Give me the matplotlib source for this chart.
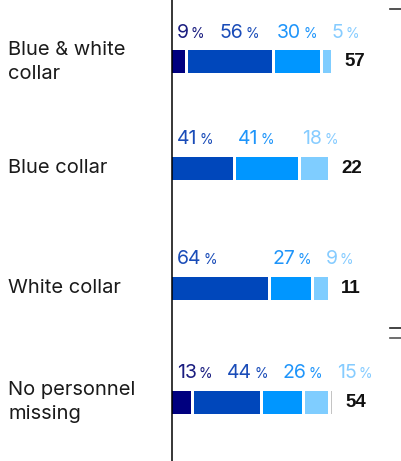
import matplotlib
matplotlib.use("Agg")
import matplotlib.pyplot as plt
from matplotlib.lines import Line2D

# staffing shortage by personnel group, share of answers per level
groups = ["Blue & white\ncollar", "Blue collar", "White collar", "No personnel\nmissing"]
level1 = [9, 0, 0, 13]
level2 = [56, 41, 64, 44]
level3 = [30, 41, 27, 26]
level4 = [5, 18, 9, 15]
no_answer = [0, 0, 0, 2]
counts = [57, 22, 11, 54]

colors = ["#00007f", "#0047bb", "#0096ff", "#7fcdff"]
label_colors = ["#1a1d80", "#1a4cb8", "#1f95fa", "#86ccff"]
grey = "#c4c4c4"

W, H = 402, 461
AXIS_PX = 172          # left edge of the bars
PX_PER_PCT = 1.5
GAP = 2                # white gap between segments, in percent units
row_y = [62, 168, 288, 402]
bar_h = 23
FONT = "Inter"

fig = plt.figure(figsize=(W / 100, H / 100), dpi=100)
ax = fig.add_axes([0, 0, 1, 1])
ax.set_xlim(-AXIS_PX / PX_PER_PCT, (W - AXIS_PX) / PX_PER_PCT)
ax.set_ylim(H, 0)
ax.axis("off")
ax.axvline(0, color="black", lw=1.1, zorder=5)

renderer = fig.canvas.get_renderer()


def px_to_x(px):
    return (px - AXIS_PX) / PX_PER_PCT


def x_to_px(x):
    return AXIS_PX + x * PX_PER_PCT


series = [level1, level2, level3, level4]
for r, y in enumerate(row_y):
    left = 0
    next_label_px = AXIS_PX + 5
    for k, vals in enumerate(series):
        v = vals[r]
        if v == 0:
            continue
        ax.barh(y, v, left=left, height=bar_h, color=colors[k], lw=0)
        # value label, pushed right when it would hit the previous one
        lx = max(x_to_px(left) + 1.5, next_label_px)
        t = ax.text(px_to_x(lx), y - bar_h / 2 - 13, str(v), color=label_colors[k],
                    fontsize=14, family=FONT, ha="left", va="baseline")
        ext = t.get_window_extent(renderer)
        p = ax.text(px_to_x(ext.x1 + 2), y - bar_h / 2 - 13, "%", color=label_colors[k],
                    fontsize=10, family=FONT, ha="left", va="baseline")
        next_label_px = p.get_window_extent(renderer).x1 + 15
        left += v + GAP
    if no_answer[r]:
        ax.barh(y, no_answer[r] / 2, left=left, height=bar_h, color=grey, lw=0)
        left += no_answer[r] / 2 + GAP
    end_px = x_to_px(left - GAP)
    ax.text(px_to_x(end_px + 13), y, str(counts[r]), fontsize=13.5, fontweight="bold",
            family="Liberation Sans", ha="left", va="center", color="#111111")
    ax.text(px_to_x(8), y, groups[r], fontsize=14.5, family=FONT, ha="left",
            va="center", linespacing=1.45, color="#1a1a1a")

# short separator marks on the right edge
for yy, c in [(9, "#333333"), (328, "#222222"), (338, "#555555")]:
    fig.add_artist(Line2D([390 / W, 1], [1 - yy / H] * 2, color=c, lw=1.2))

fig.savefig("out.png", dpi=100)
